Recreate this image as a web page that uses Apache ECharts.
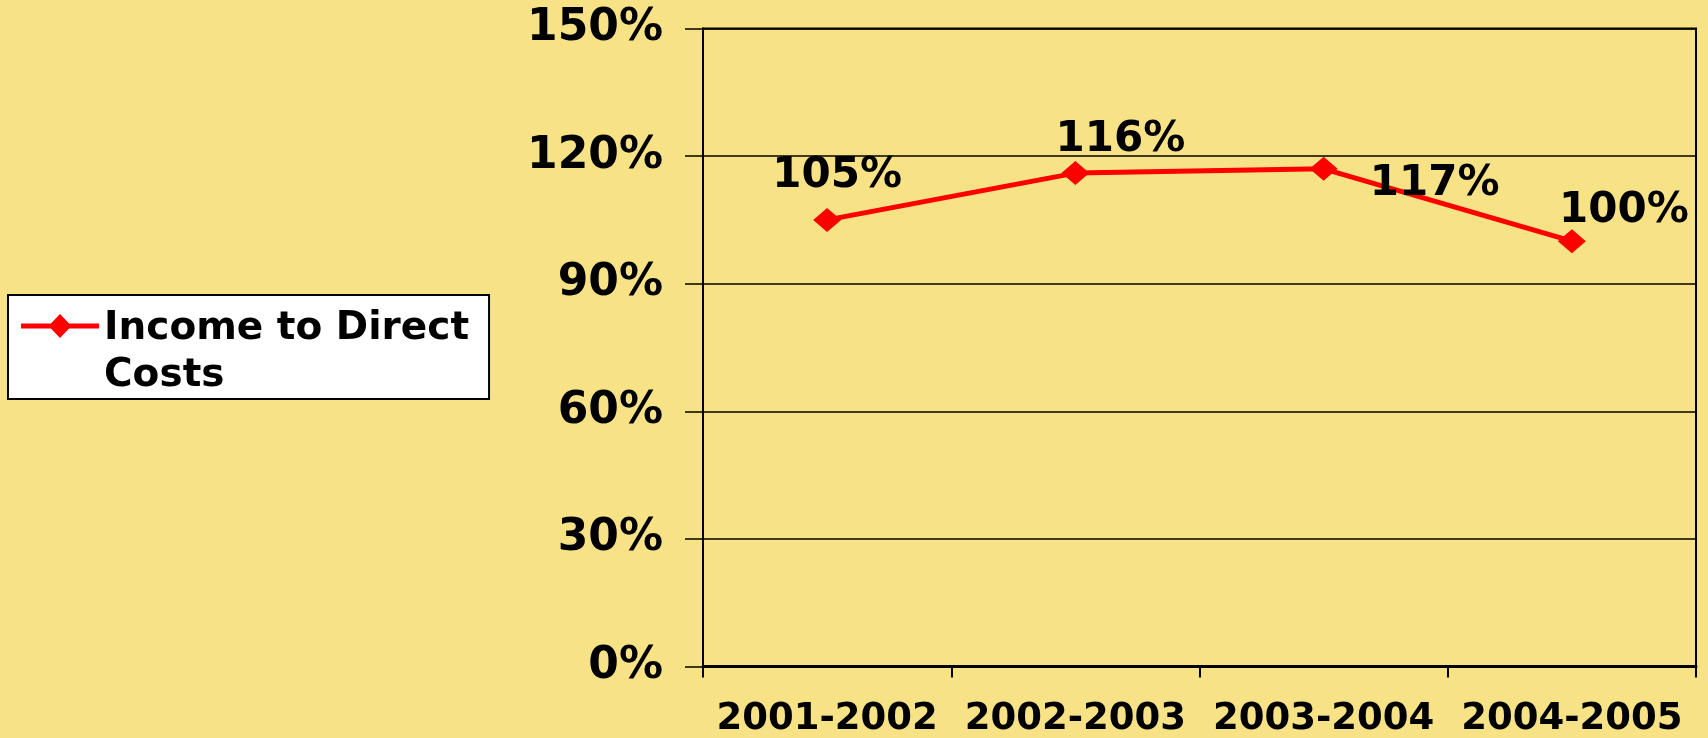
<!DOCTYPE html>
<html>
<head>
<meta charset="utf-8">
<title>Income to Direct Costs</title>
<script src="https://cdn.jsdelivr.net/npm/echarts@6/dist/echarts.min.js"></script>
<style>
  html, body { margin: 0; padding: 0; background: #F7E385; }
  #chart { width: 1708px; height: 738px; }
</style>
</head>
<body>
<div id="chart"></div>
<script>
// 数据
var years = ['2001-2002', '2002-2003', '2003-2004', '2004-2005'];
var ratio = [105, 116, 117, 100];
var yTicks = [0, 30, 60, 90, 120, 150];

var font = '"DejaVu Sans", "Liberation Sans", Arial, sans-serif';

// 数据标签在原图中被手动挪动过
var labelShift = [[10, -44], [45, -33], [111, 15], [52, -30]];

// 图例图标: 线 + 菱形 (放在上半部, 与第一行文字对齐)
var legendIcon = 'path://M0 0L0.01 0Z M0 18.5L29.9 18.5L39 9L48.1 18.5L78 18.5L78 23.5L48.1 23.5L39 33L29.9 23.5L0 23.5Z M0 94L0.01 94Z';

var option = {
    backgroundColor: '#F7E385',
    animation: false,
    textStyle: { fontFamily: font },
    legend: {
        left: 8,
        top: 295,
        orient: 'vertical',
        backgroundColor: '#ffffff',
        borderColor: '#000000',
        borderWidth: 2,
        padding: [10, 20, 0, 13],
        itemWidth: 78,
        itemHeight: 94,
        icon: legendIcon,
        itemStyle: { borderWidth: 0 },
        formatter: function () {
            return 'Income to Direct\nCosts';
        },
        textStyle: {
            fontFamily: font,
            fontSize: 39,
            fontWeight: 'bold',
            lineHeight: 47,
            color: '#000'
        }
    },
    grid: {
        left: 703,
        right: 12,
        top: 28.5,
        bottom: 738 - 666.5,
        show: true,
        borderColor: '#000',
        borderWidth: 2,
        backgroundColor: 'transparent'
    },
    xAxis: {
        type: 'category',
        data: years,
        boundaryGap: true,
        axisLine: { lineStyle: { color: '#000', width: 3 } },
        axisTick: { show: true, length: 11, alignWithLabel: false, interval: 0, lineStyle: { color: '#000', width: 2 } },
        axisLabel: {
            interval: 0,
            margin: 34,
            fontFamily: font,
            fontSize: 37,
            fontWeight: 'bold',
            color: '#000'
        }
    },
    yAxis: {
        type: 'value',
        min: yTicks[0],
        max: yTicks[yTicks.length - 1],
        interval: yTicks[1] - yTicks[0],
        axisLine: { show: true, lineStyle: { color: '#000', width: 2 } },
        axisTick: { show: true, length: 18, lineStyle: { color: '#000', width: 1.5 } },
        splitLine: { show: true, lineStyle: { color: '#000', width: 1.5 } },
        axisLabel: {
            margin: 40,
            formatter: '{value}%',
            fontFamily: font,
            fontSize: 44,
            fontWeight: 'bold',
            color: '#000'
        }
    },
    series: [
        {
            name: 'Income to Direct Costs',
            type: 'line',
            data: ratio.map(function (v, i) {
                return { value: v, label: { offset: labelShift[i] } };
            }),
            color: '#FF0000',
            lineStyle: { color: '#FF0000', width: 5 },
            symbol: 'diamond',
            symbolSize: [28, 24],
            itemStyle: { color: '#FF0000' },
            label: {
                show: true,
                position: 'inside',
                formatter: '{c}%',
                fontFamily: font,
                fontSize: 42,
                fontWeight: 'bold',
                color: '#000'
            }
        }
    ]
};

var chart = echarts.init(document.getElementById('chart'));
chart.setOption(option);
window.onresize = function () {
    chart.resize();
};
</script>
</body>
</html>
